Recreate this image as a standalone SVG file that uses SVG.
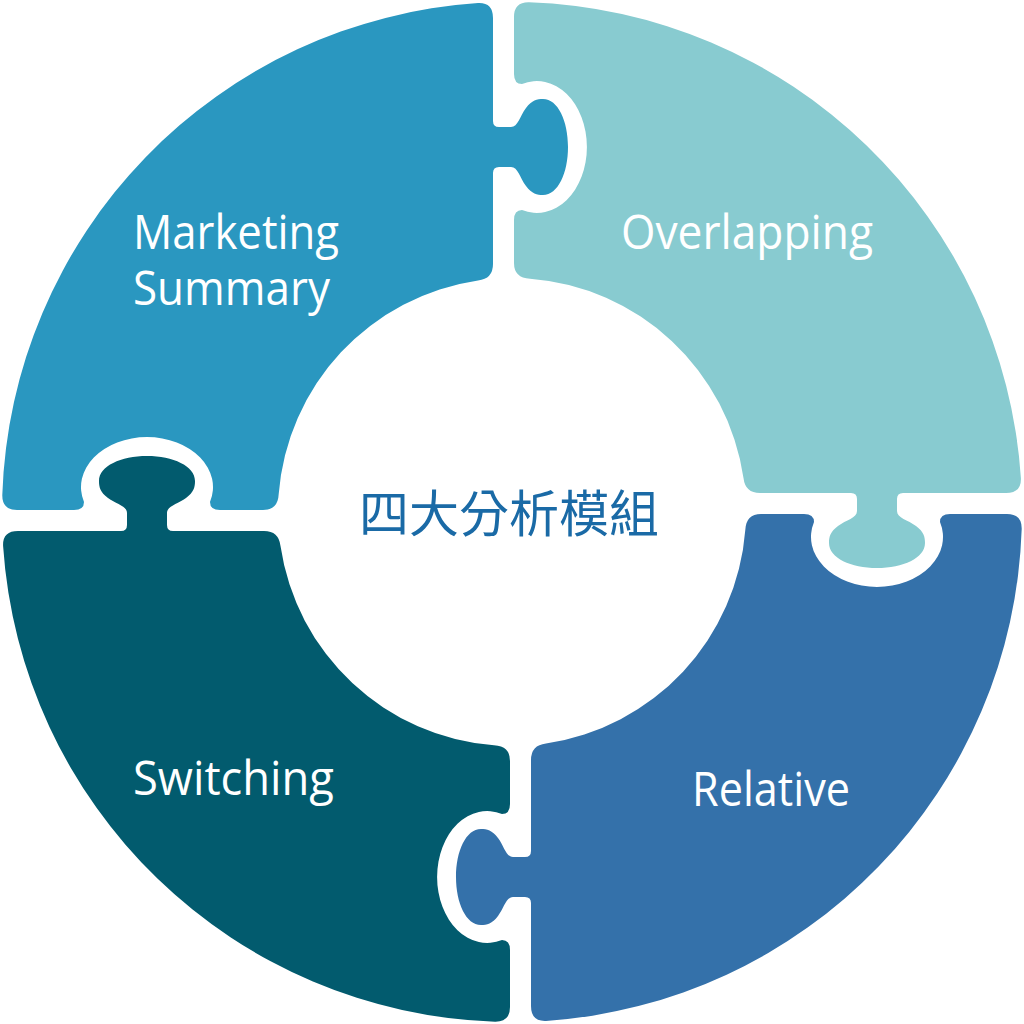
<svg xmlns="http://www.w3.org/2000/svg" xmlns:xlink="http://www.w3.org/1999/xlink" width="1024" height="1024" viewBox="0 0 1024 1024">
  <style>
    .label { font-family: "Open Sans", "Noto Sans", "Liberation Sans", sans-serif; font-size: 48px; fill: #ffffff; }
    .center { font-family: "Noto Sans CJK TC", "Noto Sans CJK SC", sans-serif; font-size: 50px; fill: #1A6AA6; }
  </style>
  <defs>
    <path id="piece" d="M 17,510 L 74,510 Q 84,510 84,502 A 66 50 0 1 1 210,502 Q 210,510 220,510 L 263,510 Q 278,510 278.7,494 A 234 234 0 0 1 478,280.5 Q 493,278.8 493,264 L 493,173 Q 493,167 499,167 L 511,167 C 518,167 520,178 526,186 C 532,194 537,195 543,195 C 558,195 568,173 568,147 C 568,121 558,99 543,99 C 537,99 532,100 526,108 C 520,116 518,127 511,127 L 499,127 Q 493,127 493,121 L 493,18 Q 493,2.4 478,3.1 A 510 510 0 0 0 2.3,495 Q 2,510 17,510 Z"/>
  </defs>
  <rect width="1024" height="1024" fill="#ffffff"/>
  <g id="connectors"></g>
  <g id="node-marketing">
    <use xlink:href="#piece" href="#piece" fill="#2A97C0"/>
    <text class="label" x="133" y="248.5" textLength="206" lengthAdjust="spacingAndGlyphs">Marketing</text>
    <text class="label" x="133" y="305" textLength="197" lengthAdjust="spacingAndGlyphs">Summary</text>
  </g>
  <g id="node-overlapping">
    <use xlink:href="#piece" href="#piece" fill="#88CBD0" transform="rotate(90 512 512)"/>
    <text class="label" x="621" y="249" textLength="252" lengthAdjust="spacingAndGlyphs">Overlapping</text>
  </g>
  <g id="node-relative">
    <use xlink:href="#piece" href="#piece" fill="#3471AA" transform="rotate(180 512 512)"/>
    <text class="label" x="692" y="806" textLength="158" lengthAdjust="spacingAndGlyphs">Relative</text>
  </g>
  <g id="node-switching">
    <use xlink:href="#piece" href="#piece" fill="#025B6E" transform="rotate(270 512 512)"/>
    <text class="label" x="133" y="795" textLength="201" lengthAdjust="spacingAndGlyphs">Switching</text>
  </g>
  <g id="node-center">
    <text class="center" x="509" y="532" text-anchor="middle">四大分析模組</text>
  </g>
</svg>
